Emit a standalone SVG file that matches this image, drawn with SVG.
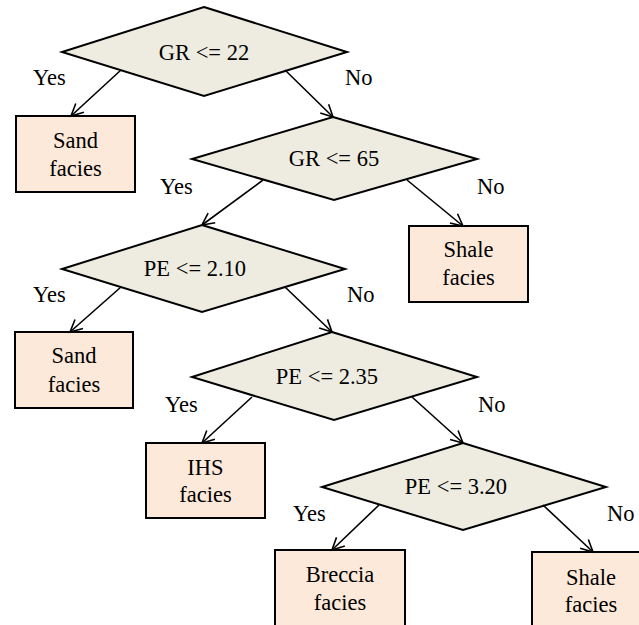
<svg xmlns="http://www.w3.org/2000/svg" width="639" height="625" viewBox="0 0 639 625">
  <defs>
    <marker id="arr" markerUnits="userSpaceOnUse" markerWidth="16" markerHeight="16" refX="13" refY="7" orient="auto" viewBox="0 0 16 14">
      <path d="M1,1 L13,7 L1,13" fill="none" stroke="#000" stroke-width="1.6"/>
    </marker>
  </defs>
  <rect width="639" height="625" fill="#fff"/>

  <!-- decision nodes -->
  <g id="gr22">
    <polygon points="204,7 347,52 204,96 62,52" fill="#EEECE1" stroke="#000" stroke-width="2"/>
    <text x="204" y="60" text-anchor="middle" font-size="22.5" font-family="Liberation Serif">GR &lt;= 22</text>
  </g>
  <g id="gr65">
    <polygon points="333,117 477,159 334,200 192,159" fill="#EEECE1" stroke="#000" stroke-width="2"/>
    <text x="334" y="166" text-anchor="middle" font-size="22.5" font-family="Liberation Serif">GR &lt;= 65</text>
  </g>
  <g id="pe210">
    <polygon points="202,225 345,269 202,312 62,269" fill="#EEECE1" stroke="#000" stroke-width="2"/>
    <text x="195" y="276" text-anchor="middle" font-size="22.5" font-family="Liberation Serif">PE &lt;= 2.10</text>
  </g>
  <g id="pe235">
    <polygon points="332,332 477,377 334,420 192,377" fill="#EEECE1" stroke="#000" stroke-width="2"/>
    <text x="327" y="384" text-anchor="middle" font-size="22.5" font-family="Liberation Serif">PE &lt;= 2.35</text>
  </g>
  <g id="pe320">
    <polygon points="463,443 606,487 463,530 322,487" fill="#EEECE1" stroke="#000" stroke-width="2"/>
    <text x="456" y="494" text-anchor="middle" font-size="22.5" font-family="Liberation Serif">PE &lt;= 3.20</text>
  </g>

  <!-- leaf nodes -->
  <g id="sand1">
    <rect x="16" y="116" width="119" height="76" fill="#FDE9D9" stroke="#000" stroke-width="2"/>
    <text x="75.5" y="148" text-anchor="middle" font-size="22.5" font-family="Liberation Serif">Sand</text>
    <text x="75.5" y="176" text-anchor="middle" font-size="22.5" font-family="Liberation Serif">facies</text>
  </g>
  <g id="shale1">
    <rect x="409" y="226" width="119" height="76" fill="#FDE9D9" stroke="#000" stroke-width="2"/>
    <text x="468.5" y="257" text-anchor="middle" font-size="22.5" font-family="Liberation Serif">Shale</text>
    <text x="468.5" y="285" text-anchor="middle" font-size="22.5" font-family="Liberation Serif">facies</text>
  </g>
  <g id="sand2">
    <rect x="15" y="332" width="118" height="76" fill="#FDE9D9" stroke="#000" stroke-width="2"/>
    <text x="74" y="363" text-anchor="middle" font-size="22.5" font-family="Liberation Serif">Sand</text>
    <text x="74" y="392" text-anchor="middle" font-size="22.5" font-family="Liberation Serif">facies</text>
  </g>
  <g id="ihs">
    <rect x="146" y="443" width="119" height="75" fill="#FDE9D9" stroke="#000" stroke-width="2"/>
    <text x="205.5" y="475" text-anchor="middle" font-size="22.5" font-family="Liberation Serif">IHS</text>
    <text x="205.5" y="502" text-anchor="middle" font-size="22.5" font-family="Liberation Serif">facies</text>
  </g>
  <g id="breccia">
    <rect x="275" y="550" width="130" height="80" fill="#FDE9D9" stroke="#000" stroke-width="2"/>
    <text x="340" y="582" text-anchor="middle" font-size="22.5" font-family="Liberation Serif">Breccia</text>
    <text x="340" y="610" text-anchor="middle" font-size="22.5" font-family="Liberation Serif">facies</text>
  </g>
  <g id="shale2">
    <rect x="532" y="552" width="119" height="80" fill="#FDE9D9" stroke="#000" stroke-width="2"/>
    <text x="591" y="585" text-anchor="middle" font-size="22.5" font-family="Liberation Serif">Shale</text>
    <text x="591" y="612" text-anchor="middle" font-size="22.5" font-family="Liberation Serif">facies</text>
  </g>

  <!-- connectors -->
  <g id="edges" stroke="#000" stroke-width="1.6" fill="none" marker-end="url(#arr)">
    <line x1="121" y1="70" x2="71" y2="116"/>
    <line x1="285" y1="70" x2="333" y2="117"/>
    <line x1="263" y1="180" x2="202" y2="225"/>
    <line x1="407" y1="180" x2="463" y2="226"/>
    <line x1="121" y1="287" x2="70" y2="332"/>
    <line x1="285" y1="287" x2="332" y2="332"/>
    <line x1="252" y1="397" x2="202" y2="443"/>
    <line x1="412" y1="397" x2="463" y2="443"/>
    <line x1="379" y1="505" x2="332" y2="550"/>
    <line x1="543" y1="505" x2="593" y2="552"/>
  </g>

  <!-- branch labels -->
  <g id="labels">
    <text x="33" y="85" font-size="22.5" font-family="Liberation Serif">Yes</text>
    <text x="345" y="85" font-size="22.5" font-family="Liberation Serif">No</text>
    <text x="160" y="194" font-size="22.5" font-family="Liberation Serif">Yes</text>
    <text x="477" y="194" font-size="22.5" font-family="Liberation Serif">No</text>
    <text x="33" y="302" font-size="22.5" font-family="Liberation Serif">Yes</text>
    <text x="347" y="302" font-size="22.5" font-family="Liberation Serif">No</text>
    <text x="165" y="412" font-size="22.5" font-family="Liberation Serif">Yes</text>
    <text x="478" y="412" font-size="22.5" font-family="Liberation Serif">No</text>
    <text x="293" y="521" font-size="22.5" font-family="Liberation Serif">Yes</text>
    <text x="607" y="521" font-size="22.5" font-family="Liberation Serif">No</text>
  </g>
</svg>
